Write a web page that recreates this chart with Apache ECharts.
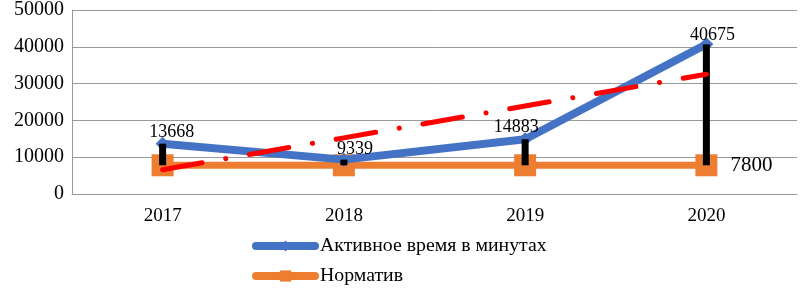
<!DOCTYPE html>
<html><head><meta charset="utf-8">
<script src="https://cdn.jsdelivr.net/npm/echarts@6/dist/echarts.min.js"></script>
<style>html,body{margin:0;padding:0;background:#fff}#c{width:801px;height:289px}</style>
</head><body><div id="c"></div>
<script>
const years = ['2017', '2018', '2019', '2020'];
const active = [13668, 9339, 14883, 40675];
const norm = [7800, 7800, 7800, 7800];
const trend = [6600, 15250, 23900, 32550];
const yTicks = [0, 10000, 20000, 30000, 40000, 50000];
const activeName = 'Активное время в минутах';
const normName = 'Норматив';

const labelOffsets = [[9, -11], [11, -10], [-9, -12], [6, -9]];
const FONT = '"Liberation Serif", "Times New Roman", serif';

function legendAt(name, top) {
  return {
    data: [name],
    orient: 'vertical',
    left: 247, top: top,
    itemWidth: 59, itemHeight: 14, itemGap: 0,
    lineStyle: {width: 8, cap: 'round'},
    textStyle: {fontFamily: FONT, fontSize: 19.8, color: '#000'}
  };
}

const chart = echarts.init(document.getElementById('c'), null, {renderer: 'canvas'});
chart.setOption({
  backgroundColor: '#fff',
  animation: false,
  grid: {left: 72, right: 4, top: 10, bottom: 95},
  legend: [legendAt(activeName, 231), legendAt(normName, 261)],
  xAxis: {
    type: 'category', data: years, boundaryGap: true,
    axisLine: {lineStyle: {color: '#999'}},
    axisTick: {show: false},
    axisLabel: {fontFamily: FONT, fontSize: 19, color: '#000', margin: 13}
  },
  yAxis: {
    type: 'value', min: yTicks[0], max: yTicks[yTicks.length - 1], interval: 10000,
    axisLine: {show: true, lineStyle: {color: '#999'}},
    axisTick: {show: false},
    splitLine: {lineStyle: {color: '#999', width: 1}},
    axisLabel: {fontFamily: FONT, fontSize: 20, color: '#000', margin: 8, formatter: v => String(v)}
  },
  series: [
    {
      name: normName, type: 'line', z: 2,
      data: norm.map((v, i) => i === norm.length - 1 ? {
        value: v,
        label: {show: true, position: 'right', distance: 13, fontFamily: FONT, fontSize: 21, color: '#000'}
      } : v),
      symbol: 'rect', symbolSize: 22,
      lineStyle: {color: '#ED7D31', width: 7},
      itemStyle: {color: '#ED7D31'}
    },
    {
      name: activeName, type: 'line', z: 3,
      data: active.map((v, i) => ({
        value: v,
        label: {show: true, position: 'inside', offset: labelOffsets[i], fontFamily: FONT, fontSize: 18, color: '#000'}
      })),
      symbol: 'diamond', symbolSize: 14,
      lineStyle: {color: '#4472C4', width: 8},
      itemStyle: {color: '#4472C4'}
    },
    {
      name: 'hilo', type: 'custom', z: 4,
      data: active.map((v, i) => [i, norm[i], v]),
      renderItem: function (params, api) {
        const p1 = api.coord([api.value(0), api.value(1)]);
        const p2 = api.coord([api.value(0), api.value(2)]);
        const w = 7;
        return {
          type: 'rect',
          shape: {x: p1[0] - w / 2, y: Math.min(p1[1], p2[1]), width: w, height: Math.abs(p1[1] - p2[1])},
          style: {fill: '#000'}
        };
      }
    },
    {
      name: 'trend', type: 'line', z: 5,
      data: trend, symbol: 'none',
      lineStyle: {color: '#FF0000', width: 5, type: [40, 24, 0.1, 24], cap: 'round'}
    }
  ]
});
</script></body></html>
